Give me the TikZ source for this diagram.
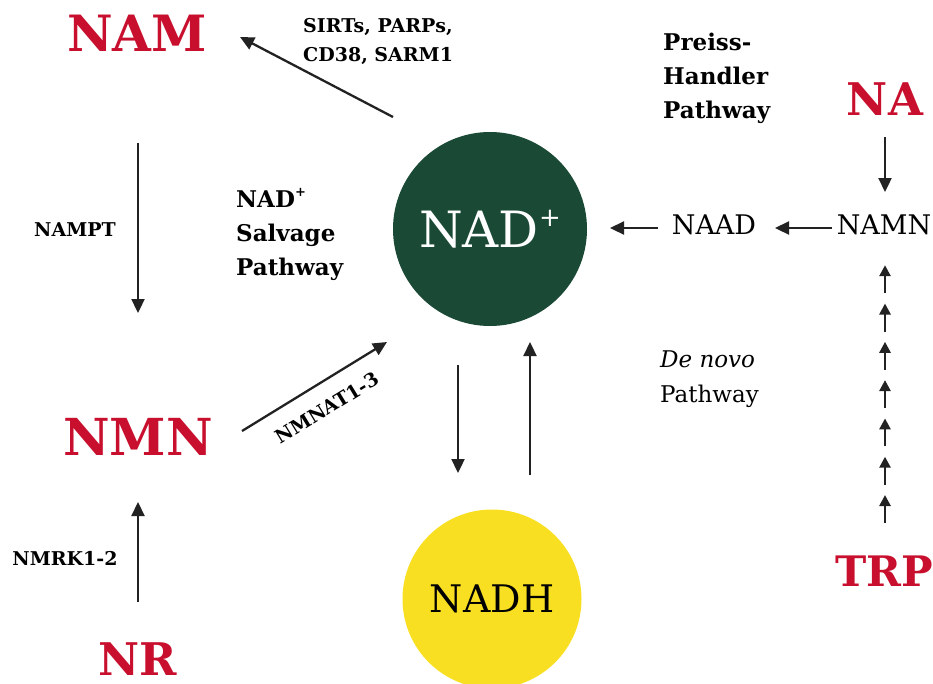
\documentclass[tikz,border=0pt]{standalone}
\usepackage{fontspec}
\setmainfont{DejaVu Serif}
\usetikzlibrary{calc,arrows.meta}
\definecolor{labred}{HTML}{C8102E}
\definecolor{nadgreen}{HTML}{1A4A35}
\definecolor{nadhyellow}{HTML}{F9DF22}
\definecolor{arrowgray}{HTML}{222222}
\newcommand{\supplus}{\raisebox{0.5em}{\fontsize{0.5em}{0.5em}\selectfont +}}
\begin{document}
\begin{tikzpicture}[x=1pt,y=-1pt,
  arr/.style={-{Triangle[length=14pt,width=13pt]}, line width=2.3pt, draw=arrowgray},
  arrsmall/.style={-{Triangle[length=11pt,width=11pt]}, line width=2.6pt, draw=arrowgray},
  redlbl/.style={text=labred, inner sep=0pt, font=\bfseries\fontsize{#1}{#1}\selectfont},
  enz/.style={inner sep=0pt, font=\bfseries\fontsize{19}{29}\selectfont, align=left},
  pathlbl/.style={inner sep=0pt, font=\bfseries\fontsize{23}{34}\selectfont, align=left},
  metab/.style={inner sep=0pt, font=\fontsize{27}{27}\selectfont}
]
\useasboundingbox (0,0) rectangle (933,683);

% circles
\node[circle, fill=nadgreen, minimum size=194pt, inner sep=0pt, text=white,
      font=\fontsize{50}{50}\selectfont] (nad) at (490,229) {NAD\raisebox{0.42em}{\fontsize{26}{26}\selectfont +}};
\node[circle, fill=nadhyellow, minimum size=179pt, inner sep=0pt,
      font=\fontsize{38}{38}\selectfont] (nadh) at (492,599) {NADH};

% red metabolites
\node[redlbl=50] (nam) at (137,33) {NAM};
\node[redlbl=51] (nmn) at (138,437) {NMN};
\node[redlbl=45] (nr) at (138,659) {NR};
\node[redlbl=45] (na) at (885,99) {NA};
\node[redlbl=42] (trp) at (884,571) {TRP};

% intermediate metabolites
\node[metab] (naad) at (714,225) {NAAD};
\node[metab] (namn) at (884,225) {NAMN};

% enzyme labels
\node[enz, anchor=base west] (sirt) at (303,61) {SIRTs, PARPs,\\CD38, SARM1};
\node[enz] (nampt) at (75,230) {NAMPT};
\node[enz] (nmrk) at (65,558) {NMRK1-2};
\node[enz, rotate=31.5] (nmnat) at (327,408) {NMNAT1-3};

% pathway labels
\node[pathlbl, anchor=base west] (salv) at (236,275) {NAD\raisebox{0.45em}{\fontsize{13}{13}\selectfont +}\\Salvage\\Pathway};
\node[pathlbl, anchor=base west] (preiss) at (663,118) {Preiss-\\Handler\\Pathway};
\node[inner sep=0pt, font=\fontsize{23}{35}\selectfont, align=left, anchor=base west]
  (denovo) at (660,402) {\textit{De novo}\\Pathway};

% connectors
\draw[arr] ($(nad)+(-97,-112)$) -- ($(nam)+(103,4)$);
\draw[arr] ($(nam)+(1,110)$) -- ($(nmn)+(0,-124)$);
\draw[arr] ($(nr)+(0,-57)$) -- ($(nmn)+(0,65)$);
\draw[arr] ($(nmn)+(104,-6)$) -- ($(nad)+(-103,113)$);
\draw[arr] ($(nad)+(-32,136)$) -- ($(nadh)+(-34,-126)$);
\draw[arr] ($(nadh)+(38,-124)$) -- ($(nad)+(40,113)$);
\draw[arr] ($(na)+(0,38)$) -- ($(namn)+(1,-33)$);
\draw[arr] ($(namn)+(-52,3)$) -- ($(naad)+(61,3)$);
\draw[arr] ($(naad)+(-56,3)$) -- ($(nad)+(120,-1)$);
\foreach \k in {0,...,6}
  \draw[arrsmall] ($(trp)+(1,-48-38.3*\k)$) -- ($(trp)+(1,-76-38.3*\k)$);
\end{tikzpicture}
\end{document}
